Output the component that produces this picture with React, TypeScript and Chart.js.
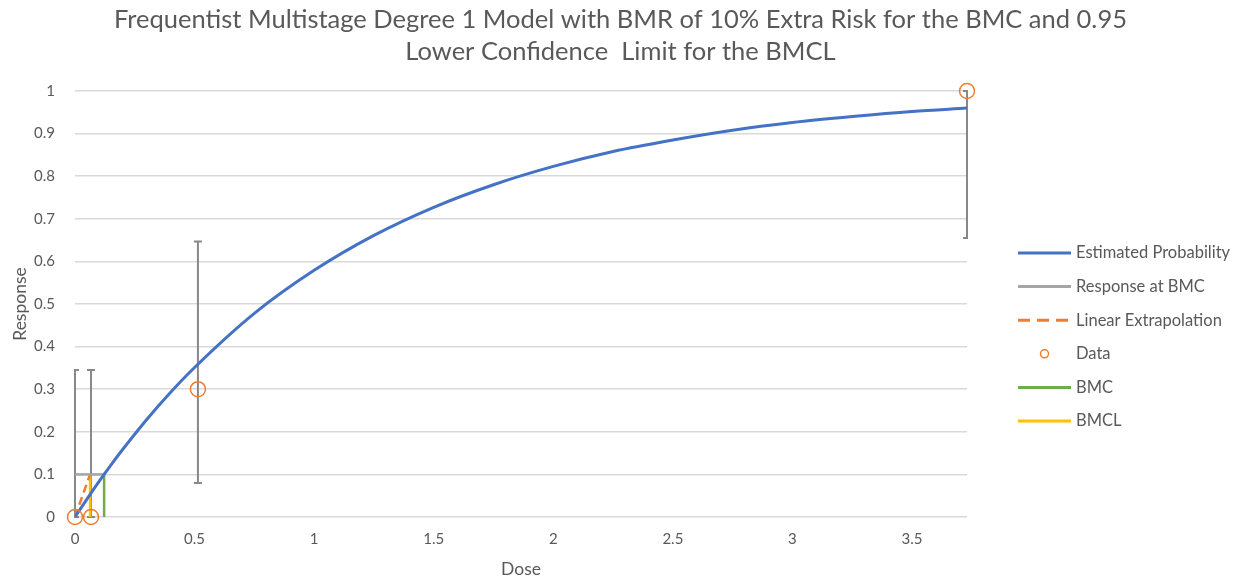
import React, { useEffect, useRef } from 'react';
import { Chart, registerables } from 'chart.js';
Chart.register(...registerables);

const titleLines = [
  'Frequentist Multistage Degree 1 Model with BMR of 10% Extra Risk for the BMC and 0.95',
  'Lower Confidence  Limit for the BMCL',
];
const xTitle = 'Dose';
const yTitle = 'Response';
const xTickValues = [0, 0.5, 1, 1.5, 2, 2.5, 3, 3.5];
const xTickLabels = ['0', '0.5', '1', '1.5', '2', '2.5', '3', '3.5'];
const yTickValues = [0, 0.1, 0.2, 0.3, 0.4, 0.5, 0.6, 0.7, 0.8, 0.9, 1];
const yTickLabels = ['0', '0.1', '0.2', '0.3', '0.4', '0.5', '0.6', '0.7', '0.8', '0.9', '1'];

// Estimated probability curve
const curveDose = [0, 0.05, 0.1, 0.15, 0.2, 0.3, 0.4, 0.5, 0.75, 1, 1.25, 1.5, 1.75, 2, 2.25, 2.5, 2.75, 3, 3.25, 3.5, 3.73];
const curveResp = [0, 0.042, 0.083, 0.122, 0.159, 0.229, 0.293, 0.351, 0.478, 0.579, 0.661, 0.727, 0.78, 0.823, 0.858, 0.885, 0.908, 0.926, 0.94, 0.952, 0.96];

// Observed data with confidence limits
const dataDose = [0, 0.067, 0.514, 3.73];
const dataResp = [0, 0, 0.3, 1];
const errLow = [0, 0, 0.08, 0.655];
const errHigh = [0.345, 0.345, 0.647, 1];

const bmr = 0.1;
const bmc = 0.1217;
const bmcl = 0.063;

const legendLabels = ['Estimated Probability', 'Response at BMC', 'Linear Extrapolation', 'Data', 'BMC', 'BMCL'];

const TEXT = '#595959';
const FONT = 'Lato, "Open Sans", sans-serif';

const titlePlugin = {
  id: 'customTitle',
  afterDraw(chart: any) {
    const { ctx, width } = chart;
    ctx.save();
    ctx.fillStyle = TEXT;
    ctx.font = `25.5px ${FONT}`;
    ctx.textAlign = 'center';
    ctx.textBaseline = 'middle';
    titleLines.forEach((t, i) => ctx.fillText(t, width / 2, 20 + i * 32));
    ctx.restore();
  },
};

const errorBarPlugin = {
  id: 'errorBars',
  beforeDatasetsDraw(chart: any) {
    const { ctx, scales, chartArea } = chart;
    const x = scales.x, y = scales.y;
    ctx.save();
    ctx.beginPath();
    ctx.rect(chartArea.left - 1, chartArea.top - 10, chartArea.right - chartArea.left + 2, chartArea.bottom - chartArea.top + 20);
    ctx.clip();
    ctx.strokeStyle = '#888888';
    ctx.lineWidth = 2;
    dataDose.forEach((d, i) => {
      const px = x.getPixelForValue(d);
      const lo = y.getPixelForValue(errLow[i]);
      const hi = y.getPixelForValue(errHigh[i]);
      ctx.beginPath();
      ctx.moveTo(px, lo);
      ctx.lineTo(px, hi);
      ctx.moveTo(px - 4, hi);
      ctx.lineTo(px + 4, hi);
      ctx.moveTo(px - 4, lo);
      ctx.lineTo(px + 4, lo);
      ctx.stroke();
    });
    ctx.restore();
  },
};

const legendPlugin = {
  id: 'customLegend',
  afterDraw(chart: any) {
    const { ctx } = chart;
    const x0 = 1018, x1 = 1071, tx = 1076, y0 = 253, step = 33.6;
    ctx.save();
    chart.data.datasets.forEach((ds: any, i: number) => {
      const cy = y0 + i * step;
      ctx.beginPath();
      if (ds.showLine === false) {
        ctx.strokeStyle = ds.pointBorderColor;
        ctx.lineWidth = 1.5;
        ctx.arc((x0 + x1) / 2, cy, 4, 0, Math.PI * 2);
        ctx.stroke();
      } else {
        ctx.strokeStyle = ds.borderColor;
        ctx.lineWidth = 3;
        ctx.setLineDash(ds.borderDash ? [12, 7] : []);
        ctx.moveTo(x0, cy);
        ctx.lineTo(x1, cy);
        ctx.stroke();
        ctx.setLineDash([]);
      }
      ctx.fillStyle = TEXT;
      ctx.font = `16.5px ${FONT}`;
      ctx.textBaseline = 'middle';
      ctx.textAlign = 'left';
      ctx.fillText(ds.label, tx, cy);
    });
    ctx.restore();
  },
};

export default function App() {
  const ref = useRef<HTMLCanvasElement>(null);
  useEffect(() => {
    document.body.style.margin = '0';
    const pts = (xs: number[], ys: number[]) => xs.map((v, i) => ({ x: v, y: ys[i] }));
    const chart = new Chart(ref.current as HTMLCanvasElement, {
      type: 'line',
      data: {
        datasets: [
          {
            label: legendLabels[0],
            data: pts(curveDose, curveResp),
            borderColor: '#4472C4',
            borderWidth: 3,
            pointRadius: 0,
            cubicInterpolationMode: 'monotone',
          },
          {
            label: legendLabels[1],
            data: pts([0, bmc], [bmr, bmr]),
            borderColor: '#A5A5A5',
            borderWidth: 2.5,
            pointRadius: 0,
          },
          {
            label: legendLabels[2],
            data: pts([0, bmcl], [0, bmr]),
            borderColor: '#ED7D31',
            borderWidth: 2.5,
            borderDash: [8, 5],
            pointRadius: 0,
          },
          {
            label: legendLabels[3],
            data: pts(dataDose, dataResp),
            showLine: false,
            pointRadius: 7.5,
            pointBorderWidth: 1.5,
            pointBorderColor: '#ED7D31',
            pointBackgroundColor: 'rgba(0,0,0,0)',
            borderColor: '#ED7D31',
            clip: false,
            order: -1,
          },
          {
            label: legendLabels[4],
            data: pts([bmc, bmc], [0, bmr]),
            borderColor: '#70AD47',
            borderWidth: 2.5,
            pointRadius: 0,
          },
          {
            label: legendLabels[5],
            data: pts([bmcl, bmcl], [0, bmr]),
            borderColor: '#FFC000',
            borderWidth: 2.5,
            pointRadius: 0,
          },
        ] as any,
      },
      options: {
        animation: false,
        responsive: true,
        maintainAspectRatio: false,
        layout: { padding: { left: 0, right: 274, top: 91, bottom: 0 } },
        plugins: {
          legend: { display: false },
          tooltip: { enabled: false },
          title: { display: false },
        },
        scales: {
          x: {
            type: 'linear',
            min: 0,
            max: 3.73,
            afterBuildTicks: (s: any) => { s.ticks = xTickValues.map((v) => ({ value: v })); },
            afterFit: (s: any) => { s.height = 64; },
            grid: { display: false, drawTicks: false },
            border: { display: false },
            ticks: {
              color: TEXT,
              font: { family: FONT, size: 15 },
              padding: 13,
              callback: (v: any) => xTickLabels[xTickValues.indexOf(v)] ?? '',
            },
            title: { display: true, text: xTitle, color: TEXT, font: { family: FONT, size: 17.5 }, padding: { top: 0, bottom: 1.5 } },
          },
          y: {
            type: 'linear',
            min: 0,
            max: 1,
            afterBuildTicks: (s: any) => { s.ticks = yTickValues.map((v) => ({ value: v })); },
            afterFit: (s: any) => { s.width = 75; },
            grid: { color: '#D9D9D9', lineWidth: 1.5, drawTicks: false },
            border: { display: false },
            ticks: {
              color: TEXT,
              font: { family: FONT, size: 15 },
              padding: 20,
              callback: (v: any) => yTickLabels[yTickValues.indexOf(v)] ?? '',
            },
            title: { display: true, text: yTitle, color: TEXT, font: { family: FONT, size: 17.5 }, padding: { top: 10, bottom: 0 } },
          },
        },
      },
      plugins: [errorBarPlugin, legendPlugin, titlePlugin],
    });
    return () => chart.destroy();
  }, []);
  return (
    <div style={{ width: 1241, height: 581, position: 'relative' }}>
      <canvas ref={ref} />
    </div>
  );
}
